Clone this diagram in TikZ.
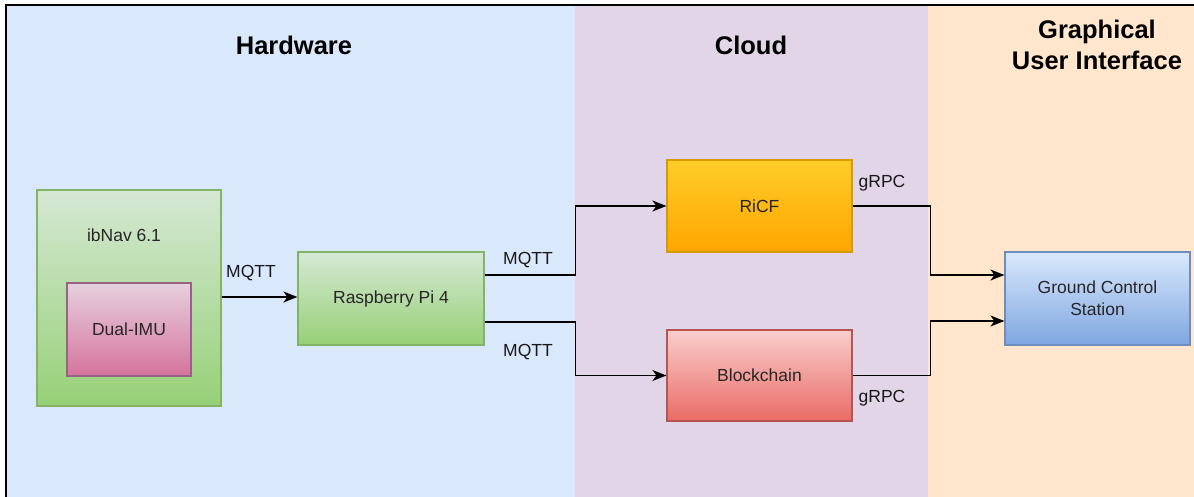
\documentclass[tikz,border=0pt]{standalone}
\usepackage{fontspec}
\setmainfont{Liberation Sans}
\usetikzlibrary{arrows.meta,calc}
\definecolor{laneblue}{HTML}{DAE8FC}
\definecolor{lanepurple}{HTML}{E1D5E7}
\definecolor{lanepeach}{HTML}{FFE6CC}
\definecolor{gtop}{HTML}{D5E8D4}
\definecolor{gbot}{HTML}{97D077}
\definecolor{gline}{HTML}{82B366}
\definecolor{ptop}{HTML}{E6D0DE}
\definecolor{pbot}{HTML}{D5739D}
\definecolor{pline}{HTML}{996185}
\definecolor{otop}{HTML}{FFCD28}
\definecolor{obot}{HTML}{FFA500}
\definecolor{oline}{HTML}{D79B00}
\definecolor{rtop}{HTML}{F8CECC}
\definecolor{rbot}{HTML}{EA6B66}
\definecolor{rline}{HTML}{B85450}
\definecolor{btop}{HTML}{DAE8FC}
\definecolor{bbot}{HTML}{7EA6E0}
\definecolor{bline}{HTML}{6C8EBF}
\tikzset{
  boxbase/.style={draw, line width=1.2pt, inner sep=0pt, align=center,
    font=\fontsize{17.5}{22}\selectfont, text=black!85},
  greenbox/.style={boxbase, draw=gline, top color=gtop, bottom color=gbot},
  pinkbox/.style={boxbase, draw=pline, top color=ptop, bottom color=pbot},
  orangebox/.style={boxbase, draw=oline, top color=otop, bottom color=obot},
  redbox/.style={boxbase, draw=rline, top color=rtop, bottom color=rbot},
  bluebox/.style={boxbase, draw=bline, top color=btop, bottom color=bbot},
  lanetitle/.style={font=\fontsize{25.5}{31}\selectfont\bfseries, align=center, inner sep=0pt},
  conlabel/.style={font=\fontsize{17.5}{22}\selectfont, inner sep=0pt, text=black!90},
  flow/.style={line width=1.5pt, -{Stealth[length=14pt,width=11pt,inset=4pt]}},
}
\begin{document}
\begin{tikzpicture}[x=1pt,y=-1pt]
\useasboundingbox (0,0) rectangle (1194,497);
% lanes
\fill[laneblue] (7,6) rectangle (575,497);
\fill[lanepurple] (575,6) rectangle (928,497);
\fill[lanepeach] (928,6) rectangle (1194,497);
\draw[line width=2pt] (6,497) -- (6,5) -- (1194,5);
% lane titles
\node[lanetitle] (thw) at (294,45) {Hardware};
\node[lanetitle] (tcl) at (751,45) {Cloud};
\node[lanetitle] (tgui) at (1097,44.5) {Graphical\\User Interface};
% boxes
\node[greenbox, minimum width=184pt, minimum height=216pt] (ibnav) at (129,298) {};
\node[conlabel, text=black!85] (ibnavlbl) at (124,235) {ibNav 6.1};
\node[pinkbox, minimum width=124pt, minimum height=93pt] (imu) at (129,329.5) {Dual-IMU};
\node[greenbox, minimum width=186pt, minimum height=93pt] (rpi) at (391,298.5) {Raspberry Pi 4};
\node[orangebox, minimum width=185pt, minimum height=92pt] (ricf) at (759.5,206) {RiCF};
\node[redbox, minimum width=185pt, minimum height=91pt] (bc) at (759.5,375.5) {Blockchain};
\node[bluebox, minimum width=185pt, minimum height=93pt] (gcs) at (1097.5,298.5) {Ground Control\\Station};
% connectors
\draw[flow] (ibnav.east |- 0,297) -- (rpi.west |- 0,297);
\draw[flow] ([yshift=23.5pt]rpi.east) -- ++(91,0) |- (ricf.west);
\draw[flow] ([yshift=-23.5pt]rpi.east) -- ++(91,0) |- (bc.west);
\draw[flow] (ricf.east) -- ++(78,0) |- ([yshift=23.5pt]gcs.west);
\draw[flow] (bc.east) -- ++(78,0) |- ([yshift=-22.5pt]gcs.west);
% connector labels
\node[conlabel] (l1) at (251,273) {MQTT};
\node[conlabel] (l2) at (528,260) {MQTT};
\node[conlabel] (l3) at (528,352) {MQTT};
\node[conlabel] (l4) at (882,183) {gRPC};
\node[conlabel] (l5) at (882,398) {gRPC};
\end{tikzpicture}
\end{document}
